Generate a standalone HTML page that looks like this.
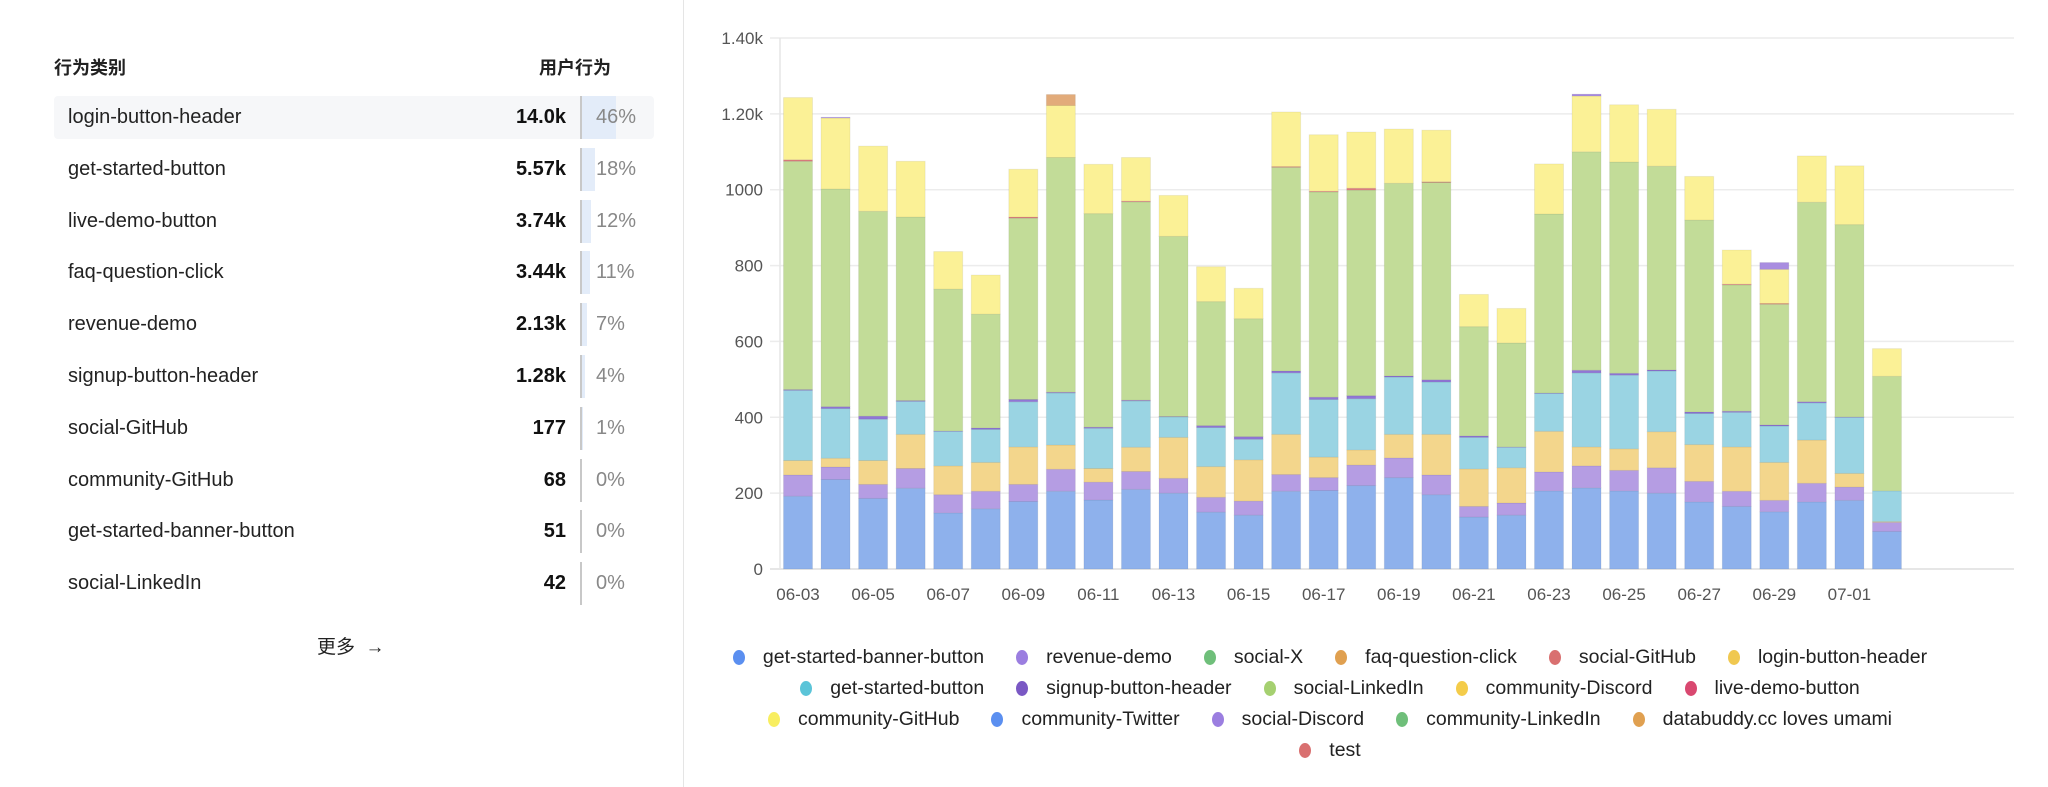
<!DOCTYPE html>
<html><head><meta charset="utf-8"><style>
body{margin:0;width:2048px;height:787px;background:#fff;font-family:"Liberation Sans","Noto Sans CJK SC",sans-serif;overflow:hidden;position:relative;color:#222}
.hdr{position:absolute;top:54px;font-size:18px;font-weight:bold;color:#222}
.row{position:absolute;left:54px;width:600px;height:43px}
.row.hl{background:#f6f7f9;border-radius:4px}
.nm{position:absolute;left:14px;top:10px;font-size:20px;color:#222}
.val{position:absolute;right:88px;top:10px;font-size:20px;font-weight:bold;color:#111}
.ln{position:absolute;left:526px;top:0;width:2px;height:43px;background:#c8c8c8}
.bar{position:absolute;left:528px;top:0;height:43px;background:#e3ecf9}
.pct{position:absolute;left:542px;top:10px;font-size:20px;color:#888}
#divider{position:absolute;left:683px;top:0;width:1px;height:787px;background:#e5e5e5}
.leg{position:absolute;left:651px;width:1358px;text-align:center;font-size:19.5px;color:#222;white-space:nowrap}
.li{display:inline-block;margin:0 16px}
.dot{display:inline-block;width:12px;height:15px;border-radius:50%;vertical-align:-2px;margin-right:18px}
</style></head><body>
<div class="hdr" style="left:54px">行为类别</div>
<div class="hdr" style="left:539px">用户行为</div>
<div id="rows"></div>
<div style="position:absolute;left:317px;top:632px;font-size:19px;color:#222">更多 &nbsp;→</div>
<div id="divider"></div>
<svg id="chart" width="2048" height="787" style="position:absolute;left:0;top:0"></svg>
<div class="leg" style="top:646px">
<span class="li"><span class="dot" style="background:#5b8ff0"></span>get-started-banner-button</span><span class="li"><span class="dot" style="background:#9b7ee0"></span>revenue-demo</span><span class="li"><span class="dot" style="background:#6fbf7a"></span>social-X</span><span class="li"><span class="dot" style="background:#e0a050"></span>faq-question-click</span><span class="li"><span class="dot" style="background:#d97070"></span>social-GitHub</span><span class="li"><span class="dot" style="background:#f0c850"></span>login-button-header</span></div>
<div class="leg" style="top:677px">
<span class="li"><span class="dot" style="background:#5bc4d8"></span>get-started-button</span><span class="li"><span class="dot" style="background:#7a58c4"></span>signup-button-header</span><span class="li"><span class="dot" style="background:#a5d070"></span>social-LinkedIn</span><span class="li"><span class="dot" style="background:#f4cc4a"></span>community-Discord</span><span class="li"><span class="dot" style="background:#d94870"></span>live-demo-button</span></div>
<div class="leg" style="top:708px">
<span class="li"><span class="dot" style="background:#f8ee60"></span>community-GitHub</span><span class="li"><span class="dot" style="background:#5b8ff0"></span>community-Twitter</span><span class="li"><span class="dot" style="background:#9b7ee0"></span>social-Discord</span><span class="li"><span class="dot" style="background:#6fbf7a"></span>community-LinkedIn</span><span class="li"><span class="dot" style="background:#e0a050"></span>databuddy.cc loves umami</span></div>
<div class="leg" style="top:739px">
<span class="li"><span class="dot" style="background:#d97070"></span>test</span></div>
<script>
const rowNames=["login-button-header","get-started-button","live-demo-button","faq-question-click","revenue-demo","signup-button-header","social-GitHub","community-GitHub","get-started-banner-button","social-LinkedIn"];
const rowValues=["14.0k","5.57k","3.74k","3.44k","2.13k","1.28k","177","68","51","42"];
const rowPcts=[46,18,12,11,7,4,1,0,0,0];
const rows=document.getElementById('rows');
rowNames.forEach((n,i)=>{
  const r=document.createElement('div');
  r.className='row'+(i===0?' hl':'');
  r.style.top=(96+i*51.8)+'px';
  
  
  r.innerHTML='<div class="nm">'+n+'</div><div class="val">'+rowValues[i]+'</div><div class="bar" style="width:'+(rowPcts[i]*0.74)+'px"></div><div class="ln"></div><div class="pct">'+rowPcts[i]+'%</div>';
  rows.appendChild(r);
});

const days=["06-03","06-04","06-05","06-06","06-07","06-08","06-09","06-10","06-11","06-12","06-13","06-14","06-15","06-16","06-17","06-18","06-19","06-20","06-21","06-22","06-23","06-24","06-25","06-26","06-27","06-28","06-29","06-30","07-01","07-02"];
const sBlue=[192,236,186,213,148,159,178,205,182,210,200,150,142,205,207,220,241,196,137,142,206,214,206,200,177,165,151,177,181,99];
const sPurple=[56,33,37,52,48,46,45,58,47,47,39,39,37,44,34,54,52,52,28,32,50,58,54,67,54,40,30,49,35,24];
const sTan=[38,23,63,90,76,76,99,64,36,64,108,81,109,106,54,40,62,107,99,93,107,50,57,95,97,117,100,114,36,2];
const sCyan=[185,131,109,87,91,87,119,137,106,122,54,103,54,162,152,135,151,138,83,54,100,195,194,160,82,91,96,98,148,81];
const sSignup=[2,5,8,2,1,4,6,2,3,2,1,5,7,5,6,8,3,6,4,1,1,7,5,3,4,3,3,3,1,0];
const sGreen=[602,574,540,484,374,300,478,619,563,523,475,327,311,537,541,542,508,520,288,274,472,576,557,537,506,333,318,526,507,302];
const sRed=[4,0,0,0,0,0,3,0,0,2,0,0,0,2,2,5,0,2,0,0,0,0,0,0,0,2,2,0,0,0];
const sYellow=[164,187,172,147,99,103,126,137,130,115,108,92,80,144,149,148,143,136,85,91,132,147,151,150,115,90,90,122,155,73];
const sTopPurple=[0,2,0,0,0,0,0,0,0,0,0,0,0,0,0,0,0,0,0,0,0,5,0,0,0,0,18,0,0,0];
const sTopOrange=[0,0,0,0,0,0,0,29,0,0,0,0,0,0,0,0,0,0,0,0,0,0,0,0,0,0,0,0,0,0];
const yTicks=[0,200,400,600,800,1000,1200,1400];
const yTickLabels=["0","200","400","600","800","1000","1.20k","1.40k"];

const series=[
 {d:sBlue,c:"#8eb1ec",n:"blue-segment"},
 {d:sPurple,c:"#b59de3",n:"purple-segment"},
 {d:sTan,c:"#f3d68c",n:"tan-segment"},
 {d:sCyan,c:"#9ad4e3",n:"cyan-segment"},
 {d:sSignup,c:"#9076d6",n:"signup-segment"},
 {d:sGreen,c:"#c2dc98",n:"green-segment"},
 {d:sRed,c:"#e08080",n:"red-segment"},
 {d:sYellow,c:"#fbf196",n:"yellow-segment"},
 {d:sTopPurple,c:"#a98de0",n:"top-purple-segment"},
 {d:sTopOrange,c:"#e2ab7a",n:"top-orange-segment"}
];
const NS="http://www.w3.org/2000/svg";
const svg=document.getElementById('chart');
const y0=569,yTop=38,vMax=1400;
const yS=v=>y0-(v/vMax)*(y0-yTop);
const xC=i=>798+i*37.55;
const bw=29;
function el(t,a){const e=document.createElementNS(NS,t);for(const k in a)e.setAttribute(k,a[k]);svg.appendChild(e);return e;}
yTicks.forEach((t,i)=>{
  const g=el('line',{x1:770,x2:2014,y1:yS(t),y2:yS(t),stroke:i===0?'#ddd':'#ececec','stroke-width':1.5});
  
  
  const tx=el('text',{x:763,y:yS(t)+6,'text-anchor':'end','font-size':17,fill:'#555','font-family':'Liberation Sans, sans-serif'});
  tx.textContent=yTickLabels[i];
  
  
});
const ax=el('line',{x1:780,x2:780,y1:yTop,y2:y0,stroke:'#e6e6e6','stroke-width':1.5});


days.forEach((d,i)=>{
  let acc=0;
  series.forEach(s=>{
    const v=s.d[i];
    if(v<=0)return;
    const r=el('rect',{x:xC(i)-bw/2,y:yS(acc+v),width:bw,height:yS(acc)-yS(acc+v),fill:s.c,stroke:'rgba(0,0,0,0.06)','stroke-width':1});
    
    
    acc+=v;
  });
  if(i%2===0){
    const t=el('text',{x:xC(i),y:600,'text-anchor':'middle','font-size':17,fill:'#555','font-family':'Liberation Sans, sans-serif'});
    t.textContent=d;
    
    
  }
});
</script>
</body></html>
